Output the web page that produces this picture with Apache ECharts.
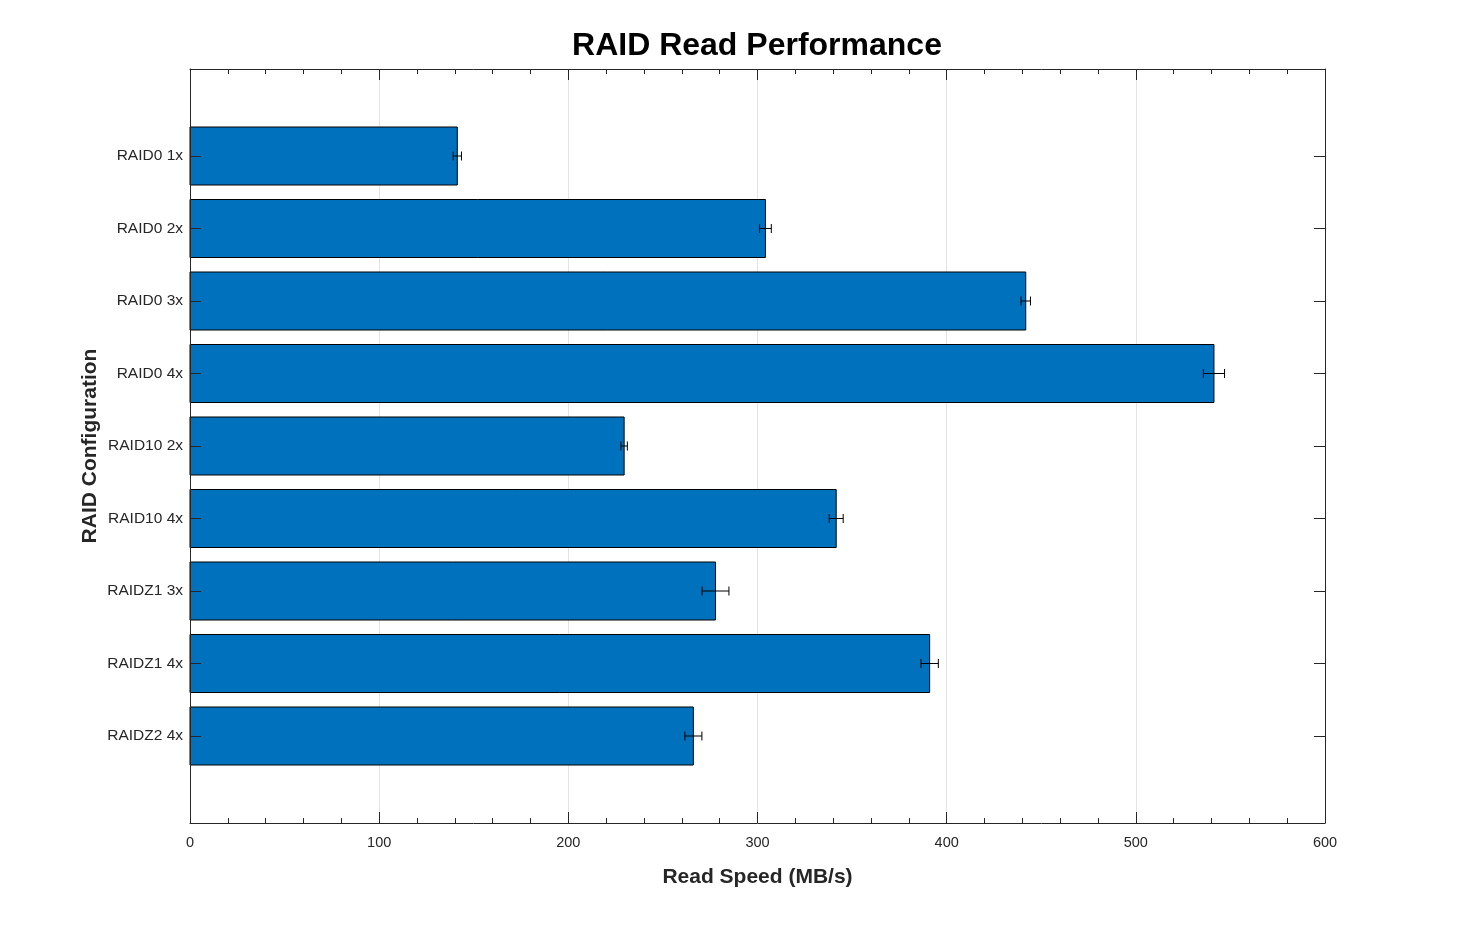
<!DOCTYPE html>
<html>
<head>
<meta charset="utf-8">
<script src="https://cdn.jsdelivr.net/npm/echarts@6/dist/echarts.min.js"></script>
<style>html,body{margin:0;padding:0;background:#fff}#c{width:1465px;height:926px}</style>
</head>
<body>
<div id="c"></div>
<script>
const categories = ['RAID0 1x','RAID0 2x','RAID0 3x','RAID0 4x','RAID10 2x','RAID10 4x','RAIDZ1 3x','RAIDZ1 4x','RAIDZ2 4x'];
const readSpeed = [141.3, 304.2, 441.8, 541.3, 229.5, 341.6, 277.8, 391.0, 266.1];
const readError = [2.2, 3.1, 2.5, 5.6, 1.7, 3.7, 7.1, 4.6, 4.5];
const xTicks = [0, 100, 200, 300, 400, 500, 600];

const FONT = "'Liberation Sans', Arial, Helvetica, sans-serif";
const positions = categories.map((c, i) => i + 1);

const barData = readSpeed.map((v, i) => [v, positions[i]]);
const errData = readSpeed.map((v, i) => [positions[i], v - readError[i], v + readError[i]]);

const chart = echarts.init(document.getElementById('c'));
const yAxisBase = {
  type: 'value', inverse: true, min: -0.2, max: 10.2, z: 10,
  axisLine: { show: true, onZero: false, lineStyle: { color: '#262626', width: 1 } },
  axisTick: { show: true, inside: true, length: 11, customValues: positions, lineStyle: { color: '#262626' } },
  splitLine: { show: false }
};
const xAxisBase = {
  type: 'value', min: xTicks[0], max: xTicks[xTicks.length - 1], interval: 100,
  axisLine: { show: true, onZero: false, lineStyle: { color: '#262626', width: 1 } },
  axisTick: { show: true, inside: true, length: 11, lineStyle: { color: '#262626' } },
  minorTick: { show: true, splitNumber: 5, length: 5, lineStyle: { color: '#262626' } }
};
chart.setOption({
  animation: false,
  backgroundColor: '#fff',
  grid: { left: 190, right: 140, top: 69, bottom: 103, containLabel: false },
  graphic: [{
    type: 'text', x: 757, y: 46,
    style: { text: 'RAID Read Performance', fontSize: 32, fontWeight: 'bold', fontFamily: FONT, fill: '#000', align: 'center', verticalAlign: 'middle' }
  }],
  xAxis: [
    Object.assign({}, xAxisBase, {
      position: 'bottom',
      name: 'Read Speed (MB/s)', nameLocation: 'middle', nameGap: 44,
      nameTextStyle: { fontSize: 21, fontWeight: 'bold', fontFamily: FONT, color: '#262626' },
      axisLabel: { show: true, fontSize: 14.5, fontFamily: FONT, color: '#262626', margin: 12 },
      splitLine: { show: true, lineStyle: { color: '#e3e3e3', width: 1 } }
    }),
    Object.assign({}, xAxisBase, {
      position: 'top',
      axisLabel: { show: false },
      splitLine: { show: false }
    })
  ],
  yAxis: [
    Object.assign({}, yAxisBase, {
      position: 'left',
      name: 'RAID Configuration', nameLocation: 'middle', nameGap: 89, nameRotate: 90, nameMoveOverlap: false,
      nameTextStyle: { fontSize: 21, fontWeight: 'bold', fontFamily: FONT, color: '#262626' },
      axisLabel: { show: true, customValues: positions, fontSize: 15.5, fontFamily: FONT, color: '#262626', margin: 7,
        formatter: v => categories[Math.round(v) - 1] || '' }
    }),
    Object.assign({}, yAxisBase, {
      position: 'right',
      axisLabel: { show: false }
    })
  ],
  series: [
    {
      type: 'custom', name: 'Read Speed', xAxisIndex: 0, yAxisIndex: 0,
      data: barData, encode: { x: 0, y: 1 },
      renderItem: function (params, api) {
        const val = api.value(0), pos = api.value(1);
        const p0 = api.coord([0, pos]);
        const p1 = api.coord([val, pos]);
        const h = api.size([0, 0.8])[1];
        return {
          type: 'rect',
          shape: { x: p0[0], y: p0[1] - h / 2, width: p1[0] - p0[0], height: h },
          style: { fill: '#0072BD', stroke: '#000', lineWidth: 1 }
        };
      },
      z: 3
    },
    {
      type: 'custom', name: 'Error', xAxisIndex: 0, yAxisIndex: 0,
      data: errData, encode: { x: [1, 2], y: 0 },
      renderItem: function (params, api) {
        const pos = api.value(0), lo = api.value(1), hi = api.value(2);
        const a = api.coord([lo, pos]);
        const b = api.coord([hi, pos]);
        const cap = 4.5;
        const st = { stroke: '#000', lineWidth: 1, fill: null };
        return {
          type: 'group',
          children: [
            { type: 'line', shape: { x1: a[0], y1: a[1], x2: b[0], y2: b[1] }, style: st },
            { type: 'line', shape: { x1: a[0], y1: a[1] - cap, x2: a[0], y2: a[1] + cap }, style: st },
            { type: 'line', shape: { x1: b[0], y1: b[1] - cap, x2: b[0], y2: b[1] + cap }, style: st }
          ]
        };
      },
      z: 4
    }
  ]
});
</script>
</body>
</html>
